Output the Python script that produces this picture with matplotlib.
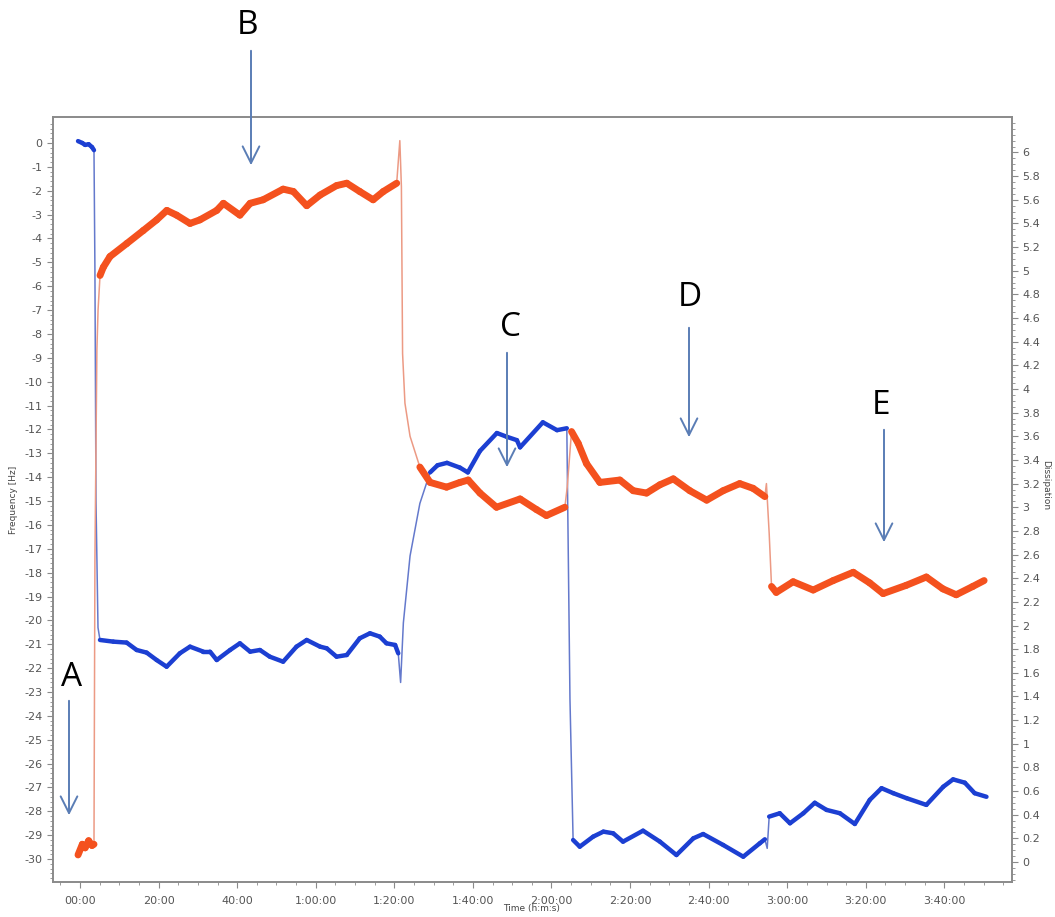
import numpy as np
import matplotlib
matplotlib.use("Agg")
import matplotlib.pyplot as plt
from matplotlib.collections import LineCollection
from matplotlib.patches import FancyArrowPatch
from matplotlib.ticker import FixedLocator, MultipleLocator, FuncFormatter

# ---- data (time in minutes) ----
freq_t = [-0.5, 0.6, 1.3, 2.2, 3.05, 3.56, 3.8, 4.07, 4.58, 5.09, 8.48, 11.87, 14.42,
          16.96, 19.5, 22.05, 25.4, 28.0, 31.4, 33.1, 34.8, 38.2, 40.7, 43.3, 45.8,
          48.3, 51.7, 55.1, 57.7, 61.1, 62.8, 65.3, 67.9, 71.2, 73.8, 76.3, 78.0,
          80.2, 81.0, 81.6, 82.3, 84.0, 86.5, 89.1, 91.0, 93.4, 96.7, 98.7, 101.8,
          106.1, 108.5, 111.2, 112.0, 117.8, 121.4, 123.9, 124.7, 125.5, 127.2,
          130.6, 133.2, 135.7, 138.2, 143.3, 147.6, 151.8, 156.1, 158.6, 163.7,
          168.8, 173.0, 174.3, 174.9, 175.4, 178.1, 180.7, 184.1, 187.0, 190.0,
          193.4, 197.2, 201.0, 204.0, 207.0, 210.4, 215.4, 219.7, 222.2, 225.2,
          227.7, 230.7]
freq_hz = [0.08, 0.0, -0.08, -0.05, -0.17, -0.3, -5.3, -15.0, -20.3, -20.82, -20.89,
           -20.93, -21.24, -21.35, -21.66, -21.94, -21.38, -21.10, -21.31, -21.31,
           -21.66, -21.24, -20.96, -21.31, -21.24, -21.52, -21.73, -21.10, -20.82,
           -21.10, -21.17, -21.52, -21.45, -20.75, -20.54, -20.68, -20.96, -21.03,
           -21.38, -22.6, -20.1, -17.3, -15.1, -13.8, -13.5, -13.4, -13.6, -13.8,
           -12.9, -12.15, -12.3, -12.45, -12.75, -11.7, -12.03, -11.95, -23.3,
           -29.2, -29.48, -29.06, -28.85, -28.92, -29.27, -28.81, -29.27, -29.83,
           -29.13, -28.95, -29.41, -29.9, -29.34, -29.17, -29.55, -28.22, -28.08,
           -28.5, -28.08, -27.64, -27.94, -28.08, -28.53, -27.52, -27.03, -27.24,
           -27.45, -27.73, -26.97, -26.66, -26.8, -27.24, -27.39]

diss_t = [-0.5, 0.6, 1.3, 2.2, 3.05, 3.56, 3.8, 4.3, 4.6, 5.1, 5.94, 7.63, 11.9, 16.1,
          19.5, 22.1, 24.6, 28.0, 30.5, 34.8, 36.5, 40.7, 43.3, 46.6, 51.7, 54.3,
          57.7, 61.1, 65.3, 67.9, 71.2, 74.6, 77.2, 80.6, 81.4, 81.8, 82.1, 82.7,
          84.0, 86.5, 89.1, 93.3, 96.7, 98.8, 101.8, 106.0, 112.0, 116.2, 118.7,
          123.4, 124.0, 125.1, 126.8, 128.9, 132.3, 137.4, 140.8, 144.2, 147.6,
          151.0, 155.2, 159.5, 163.7, 167.9, 171.3, 174.3, 174.7, 175.4, 176.0,
          177.2, 181.5, 186.6, 191.7, 196.8, 201.0, 204.4, 210.3, 215.4, 219.6,
          223.0, 227.2, 230.1]
diss_val = [0.06, 0.15, 0.12, 0.18, 0.14, 0.15, 2.55, 4.33, 4.67, 4.96, 5.03, 5.12,
            5.23, 5.34, 5.43, 5.51, 5.47, 5.40, 5.43, 5.51, 5.57, 5.47, 5.57, 5.60,
            5.69, 5.67, 5.55, 5.64, 5.72, 5.74, 5.67, 5.60, 5.67, 5.74, 6.10, 5.71,
            4.30, 3.88, 3.60, 3.34, 3.21, 3.17, 3.21, 3.23, 3.12, 3.00, 3.07, 2.98,
            2.93, 3.00, 3.17, 3.64, 3.54, 3.37, 3.21, 3.23, 3.14, 3.12, 3.19, 3.24,
            3.14, 3.06, 3.14, 3.20, 3.16, 3.09, 3.20, 2.78, 2.33, 2.28, 2.37, 2.30,
            2.38, 2.45, 2.36, 2.27, 2.34, 2.41, 2.31, 2.26, 2.33, 2.38]

labels = ["A", "B", "C", "D", "E"]
freq_ticks = list(range(0, -31, -1))
diss_ticks = [round(0.2 * i, 1) for i in range(31)]

# ---- figure ----
W, H = 1055, 917
fig = plt.figure(figsize=(W / 100, H / 100), dpi=100)
ax = fig.add_axes([53 / W, 1 - 882 / H, (1012 - 53) / W, (882 - 117) / H])
ax2 = ax.twinx()

ax.set_xlim(-6.87, 237.2)
ax.set_ylim(-30.96, 1.09)
ax2.set_ylim(-0.169, 6.30)

BLUE = "#1c3fd2"
BLUE_T = "#6479cc"
ORANGE = "#f4511e"
ORANGE_T = "#ec9a84"

def draw(axis, t, v, col, col_t, lw, ppu, thr=3.0):
    t = np.asarray(t, float)
    v = np.asarray(v, float)
    axis.plot(t, v, color=col_t, lw=1.1, zorder=2)
    pts = np.column_stack([t, v])
    segs = np.stack([pts[:-1], pts[1:]], axis=1)
    ratio = np.abs(np.diff(v)) * ppu / (np.diff(t) * 3.93)
    keep = ratio < thr
    lc = LineCollection(segs[keep], colors=col, linewidths=lw,
                        capstyle="round", joinstyle="round", zorder=3)
    axis.add_collection(lc)

draw(ax, freq_t, freq_hz, BLUE, BLUE_T, 3.2, 23.87)
draw(ax2, diss_t, diss_val, ORANGE, ORANGE_T, 5.0, 118.3)

# ---- ticks ----
TICK_C = "#555555"
SPINE_C = "#8a8a8a"
ax.xaxis.set_major_locator(MultipleLocator(20))
ax.xaxis.set_minor_locator(MultipleLocator(5))

def tfmt(x, pos):
    m = int(round(x))
    h, mm = divmod(m, 60)
    if h == 0:
        return f"{mm:02d}:00"
    return f"{h}:{mm:02d}:00"

ax.xaxis.set_major_formatter(FuncFormatter(tfmt))
ax.yaxis.set_major_locator(FixedLocator(freq_ticks))
ax.yaxis.set_minor_locator(FixedLocator(np.arange(-30.8, 1.0, 0.2)))
ax.yaxis.set_major_formatter(FuncFormatter(lambda y, p: f"{int(round(y))}"))
ax2.yaxis.set_major_locator(FixedLocator(diss_ticks))
ax2.yaxis.set_minor_locator(FixedLocator(np.arange(-0.15, 6.3, 0.05)))
ax2.yaxis.set_major_formatter(FuncFormatter(lambda y, p: f"{round(y, 1):g}"))

for a in (ax, ax2):
    for s in a.spines.values():
        s.set_color(SPINE_C)
        s.set_linewidth(1.2)
ax.tick_params(axis="both", which="major", labelsize=8, colors=SPINE_C,
               labelcolor=TICK_C, length=4, width=0.8)
ax.tick_params(axis="both", which="minor", colors=SPINE_C, length=2, width=0.6)
ax.tick_params(axis="x", pad=6)
ax2.tick_params(axis="y", which="major", labelsize=8, colors=SPINE_C,
                labelcolor=TICK_C, length=4, width=0.8)
ax2.tick_params(axis="y", which="minor", colors=SPINE_C, length=2, width=0.6)

fig.text(14 / W, 1 - 500 / H, "Frequency [Hz]", rotation=90, ha="center",
         va="center", fontsize=6.5, color="#444444")
fig.text(1046 / W, 1 - 485 / H, "Dissipation", rotation=270, ha="center",
         va="center", fontsize=6.5, color="#444444")
fig.text(532 / W, 1 - 909 / H, "Time (h:m:s)", ha="center", va="center",
         fontsize=6.5, color="#444444")

# ---- annotations (figure pixel coordinates) ----
ARROW_C = "#5a7db5"
ann_text = [(72, 677), (247, 26), (510, 327), (690, 298), (881, 405)]
ann_arrow = [(69, 698, 818), (251, 48, 168), (507, 350, 470), (689, 325, 440),
             (884, 427, 545)]
for lab, (tx, ty), (axx, y0, y1) in zip(labels, ann_text, ann_arrow):
    fig.text(tx / W, 1 - ty / H, lab, ha="center", va="center", fontsize=24,
             family="Open Sans", color="black")
    fig.add_artist(FancyArrowPatch(
        (axx / W, 1 - y0 / H), (axx / W, 1 - y1 / H), transform=fig.transFigure,
        arrowstyle="->,head_length=12,head_width=6", color=ARROW_C, lw=1.4,
        mutation_scale=1))

fig.savefig("out.png", dpi=100, facecolor="white")
